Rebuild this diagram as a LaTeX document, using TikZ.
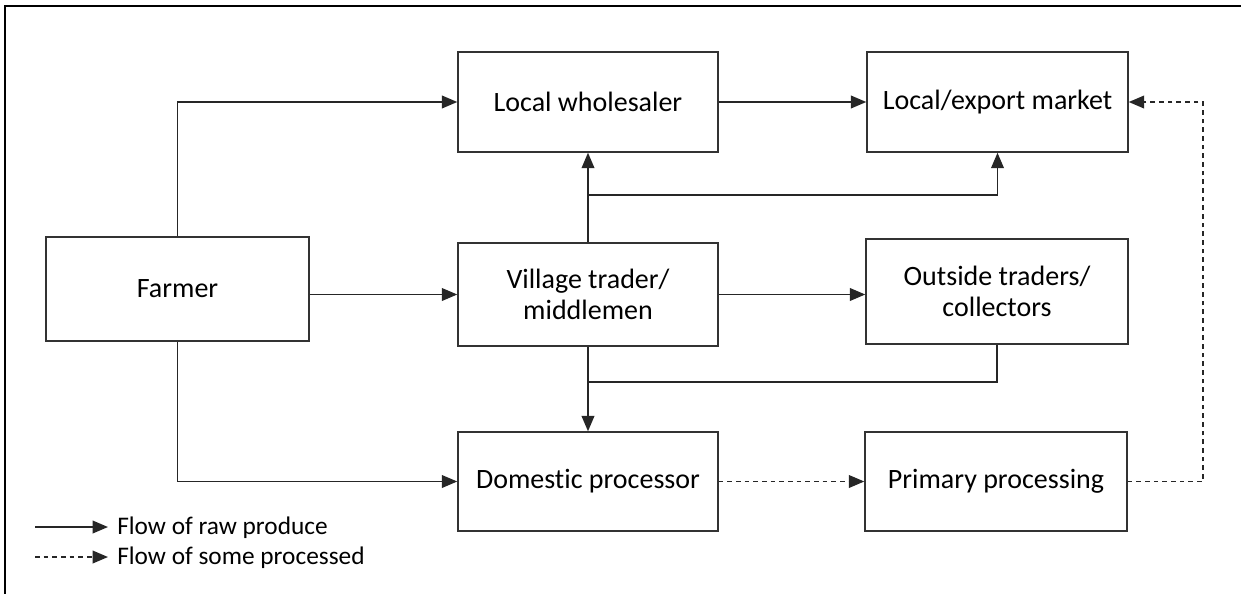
\documentclass[tikz,border=0pt]{standalone}
\usepackage{fontspec}
\setmainfont{Carlito}[Ligatures={NoCommon}]
\usetikzlibrary{arrows.meta}
\tikzset{
  box/.style={draw=black!80, line width=1.1pt, rectangle, align=center, font=\fontsize{21}{23.5}\selectfont, inner sep=2pt},
  conn/.style={draw=black!85, line width=1.1pt},
  arr/.style={conn, -{Triangle[length=11.5pt,width=9.5pt]}},
  darr/.style={arr, dash pattern=on 3.5pt off 3pt},
  dline/.style={conn, dash pattern=on 3.5pt off 3pt},
  legendtext/.style={anchor=west, font=\fontsize{19}{22}\selectfont, inner sep=0pt}
}
\begin{document}
\begin{tikzpicture}[x=0.75pt,y=-0.75pt]
\useasboundingbox (0,0) rectangle (1241,594);
\draw[black, line width=1.5pt] (1241,6) -- (5,6) -- (5,594);

\node[box, minimum width=263*0.75pt, minimum height=104*0.75pt] (farmer) at (177.5,289) {Farmer};
\node[box, minimum width=260*0.75pt, minimum height=100*0.75pt] (lw) at (588,102) {Local wholesaler};
\node[box, minimum width=261*0.75pt, minimum height=100*0.75pt] (lem) at (997.5,102) {Local/export market};
\node[box, minimum width=260*0.75pt, minimum height=103*0.75pt] (vt) at (588,294.5) {Village trader/\\middlemen};
\node[box, minimum width=262*0.75pt, minimum height=105*0.75pt] (ot) at (997,291.5) {Outside traders/\\collectors};
\node[box, minimum width=260*0.75pt, minimum height=99*0.75pt] (dp) at (588,481.5) {Domestic processor};
\node[box, minimum width=262*0.75pt, minimum height=99*0.75pt] (pp) at (996,481.5) {Primary processing};

\coordinate (j1) at (588,195);
\coordinate (j2) at (588,382);
\coordinate (d1) at (1203,481.5);

\draw[arr] (farmer.north) |- (lw.west);
\draw[arr] (farmer.south) |- (dp.west);
\draw[arr] (farmer.east |- vt.west) -- (vt.west);
\draw[arr] (vt.east) -- (ot.west |- vt.east);
\draw[arr] (lw.east) -- (lem.west);
\draw[arr] (vt.north) -- (lw.south);
\draw[arr] (j1) -| (lem.south);
\draw[arr] (vt.south) -- (dp.north);
\draw[conn] (ot.south) |- (j2);
\draw[darr] (dp.east) -- (pp.west);
\draw[darr] (pp.east) -- (d1) |- (lem.east);

\coordinate (l1s) at (35,527);
\coordinate (l1e) at (108,527);
\coordinate (l2s) at (35,557);
\coordinate (l2e) at (108,557);
\draw[arr] (l1s) -- (l1e);
\draw[darr] (l2s) -- (l2e);
\node[legendtext] (lt1) at (117,528) {Flow of raw produce};
\node[legendtext] (lt2) at (117,558) {Flow of some processed};
\end{tikzpicture}
\end{document}
